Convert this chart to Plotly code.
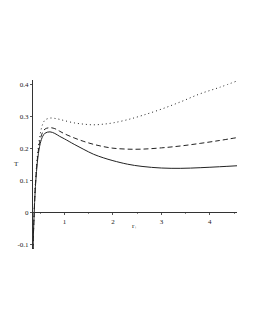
import plotly.graph_objects as go

x_vals = [0.35, 0.37, 0.40, 0.45, 0.50, 0.55, 0.60, 0.70, 0.80, 0.90, 1.0, 1.2, 1.4,
          1.6, 1.8, 2.0, 2.3, 2.6, 3.0, 3.4, 3.8, 4.2, 4.56]
solid_T = [-0.115, -0.02, 0.08, 0.17, 0.215, 0.237, 0.247, 0.251, 0.246, 0.237, 0.229,
           0.212, 0.196, 0.181, 0.170, 0.161, 0.150, 0.143, 0.138, 0.137, 0.139, 0.142, 0.145]
dashed_T = [-0.115, -0.02, 0.085, 0.18, 0.228, 0.250, 0.260, 0.264, 0.261, 0.253, 0.245,
            0.232, 0.221, 0.212, 0.205, 0.200, 0.197, 0.197, 0.201, 0.207, 0.215, 0.224, 0.233]
dotted_T = [-0.115, -0.015, 0.09, 0.19, 0.245, 0.275, 0.288, 0.294, 0.293, 0.290, 0.286,
            0.279, 0.275, 0.273, 0.275, 0.279, 0.289, 0.302, 0.322, 0.345, 0.370, 0.390, 0.410]

x_ticks = [1, 2, 3, 4]
x_tick_text = ["1", "2", "3", "4"]
y_ticks = [-0.1, 0, 0.1, 0.2, 0.3, 0.4]
y_tick_text = ["-0.1", "0", "0.1", "0.2", "0.3", "0.4"]

x_range = [0.35, 4.56]
y_range = [-0.115, 0.413]

fig = go.Figure()
for ys, dash in [(dotted_T, "1px,3px"), (dashed_T, "5px,3px"), (solid_T, "solid")]:
    fig.add_trace(go.Scatter(x=x_vals, y=ys, mode="lines",
                             line=dict(color="#222222", width=1, dash=dash, shape="spline"),
                             showlegend=False, hoverinfo="skip"))

zero_pos = (0 - y_range[0]) / (y_range[1] - y_range[0])
font = dict(family="Liberation Serif", size=7, color="#222222")

W, H = 247, 322
L, R, T, B = 25, 18, 72, 81
pw, ph = W - L - R, H - T - B

fig.update_layout(
    width=W, height=H,
    margin=dict(l=L, r=R, t=T, b=B, autoexpand=False),
    paper_bgcolor="white", plot_bgcolor="white",
    font=font,
    xaxis=dict(range=x_range, tickvals=x_ticks, ticktext=x_tick_text, showgrid=False,
               zeroline=False, showline=True, linecolor="#333333", linewidth=1,
               anchor="free", position=zero_pos, ticks="outside", ticklen=2,
               tickcolor="#555555", tickfont=font, automargin=False,
               minor=dict(tickvals=[0.5, 1.5, 2.5, 3.5, 4.5], ticks="outside", ticklen=1,
                          tickcolor="#888888")),
    yaxis=dict(range=y_range, tickvals=y_ticks, ticktext=y_tick_text, showgrid=False,
               zeroline=False, showline=True, linecolor="#333333", linewidth=1,
               ticks="outside", ticklen=2, tickcolor="#555555", tickfont=font,
               automargin=False),
    annotations=[
        dict(text="r<sub>+</sub>", x=2.44, y=-0.043, xref="x", yref="y", showarrow=False,
             font=dict(family="Liberation Serif", size=7, color="#222222")),
        dict(text="T", x=(4 - L) / pw, y=(ph - (164 - 80)) / ph, xref="paper", yref="paper",
             showarrow=False, font=dict(family="Liberation Serif", size=7, color="#222222")),
    ],
)
fig.write_html("out.html")
